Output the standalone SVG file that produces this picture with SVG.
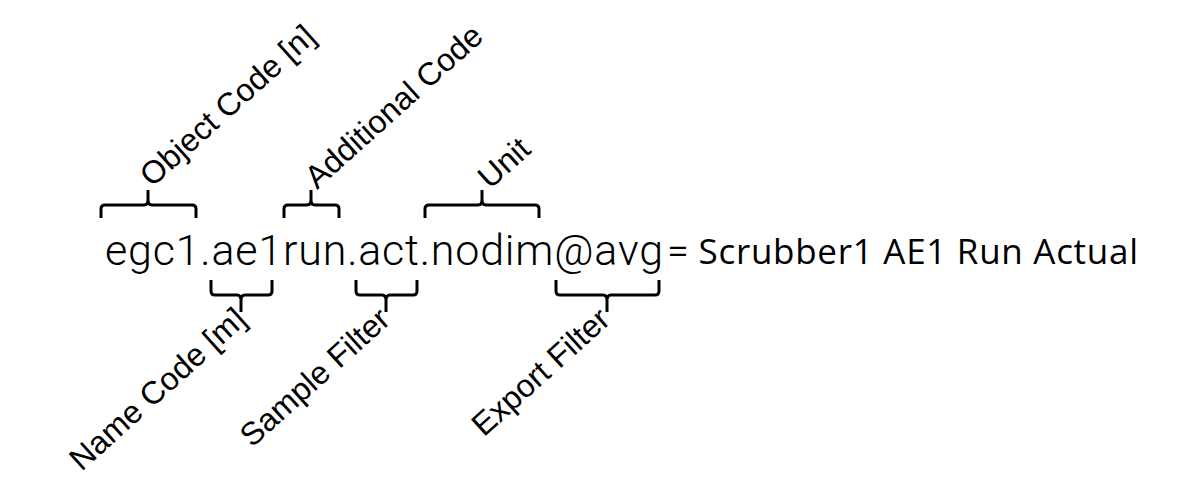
<svg xmlns="http://www.w3.org/2000/svg" width="1188" height="479" viewBox="0 0 1188 479">
<style>
.br{fill:none;stroke:#000;stroke-width:3;stroke-linejoin:round}
.lb{font-family:"Liberation Sans",Arial,sans-serif;font-size:32px;fill:#000}
</style>
<rect width="1188" height="479" fill="#fff"/>
<g id="connectors">
<path class="br" d="M101,218 V209 Q101,205 105,205 H144 Q148,205 148,200 V190 M148,200 Q148,205 152,205 H192 Q196,205 196,209 V218"/>
<path class="br" d="M284,218 V209 Q284,205 288,205 H307 Q311,205 311,200 V190 M311,200 Q311,205 315,205 H335 Q339,205 339,209 V218"/>
<path class="br" d="M425,218 V209 Q425,205 429,205 H478 Q482,205 482,200 V190 M482,200 Q482,205 486,205 H535 Q539,205 539,209 V218"/>
<path class="br" d="M211,280 V291 Q211,295 215,295 H237 Q241,295 241,300 V312 M241,300 Q241,295 245,295 H268 Q272,295 272,291 V280"/>
<path class="br" d="M356,280 V291 Q356,295 360,295 H382 Q386,295 386,300 V312 M386,300 Q386,295 390,295 H413 Q417,295 417,291 V280"/>
<path class="br" d="M556,280 V291 Q556,295 560,295 H603 Q607,295 607,300 V312 M607,300 Q607,295 611,295 H655 Q659,295 659,291 V280"/>
</g>
<g id="main"><text x="105" y="265" font-family="Roboto,'Liberation Sans',sans-serif" font-size="43" font-weight="300" textLength="558" lengthAdjust="spacing">egc1.ae1run.act.nodim@avg</text>
<text x="668" y="264" font-family="'Open Sans','Liberation Sans',sans-serif" font-size="35" textLength="470" lengthAdjust="spacing">= Scrubber1 AE1 Run Actual</text></g>
<g id="n1"><text class="lb" transform="translate(152,188) rotate(-42)">Object Code [n]</text></g>
<g id="n2"><text class="lb" transform="translate(317,190) rotate(-42)">Additional Code</text></g>
<g id="n3"><text class="lb" transform="translate(490,190) rotate(-42)">Unit</text></g>
<g id="n4"><text class="lb" text-anchor="end" transform="translate(248,322) rotate(-42)">Name Code [m]</text></g>
<g id="n5"><text class="lb" text-anchor="end" transform="translate(392,322) rotate(-42)">Sample Filter</text></g>
<g id="n6"><text class="lb" text-anchor="end" transform="translate(612,322) rotate(-42)">Export Filter</text></g>
</svg>
